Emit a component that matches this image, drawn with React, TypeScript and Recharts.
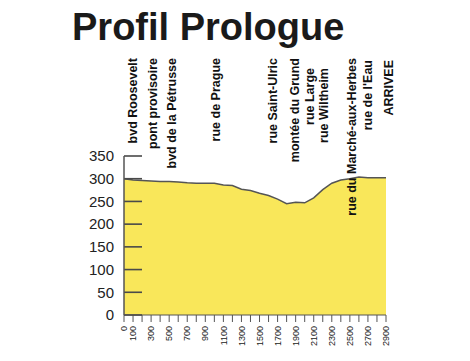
import React from 'react';
import { AreaChart, Area, XAxis, YAxis, ReferenceLine } from 'recharts';

const distances = [0, 100, 200, 300, 400, 500, 600, 700, 800, 900, 1000, 1100, 1200, 1300, 1400, 1500, 1600, 1700, 1800, 1900, 2000, 2100, 2200, 2300, 2400, 2500, 2600, 2700, 2800, 2900];
const elevations = [300, 297, 296, 295, 294, 294, 293, 291, 290, 290, 290, 286, 285, 277, 274, 268, 263, 255, 245, 248, 247, 258, 276, 290, 297, 300, 304, 302, 302, 302];

const xTicks = [0, 100, 200, 300, 400, 500, 600, 700, 800, 900, 1000, 1100, 1200, 1300, 1400, 1500, 1600, 1700, 1800, 1900, 2000, 2100, 2200, 2300, 2400, 2500, 2600, 2700, 2800, 2900];
const xTickLabels = [0, 100, 300, 500, 700, 900, 1100, 1300, 1500, 1700, 1900, 2100, 2300, 2500, 2700, 2900];
const yTicks = [0, 50, 100, 150, 200, 250, 300, 350];
const yMax = 350;

const streetNames = ['bvd Roosevelt', 'pont provisoire', 'bvd de la Pétrusse', 'rue de Prague', 'rue Saint-Ulric', 'montée du Grund', 'rue Large', 'rue Wiltheim', 'rue du Marché-aux-Herbes', "rue de l'Eau", 'ARRIVEE'];
const streetDistances = [100, 320, 530, 1010, 1650, 1890, 2060, 2210, 2520, 2700, 2925];
const streetTop = [58, 58, 58, 58, 58, 58, 68, 68, 58, 60, 60];

const data = distances.map((d, i) => ({ d, e: elevations[i] }));

const FONT = '"Liberation Sans", Arial, Helvetica, sans-serif';

const YTick = (props: any) => {
  const x = Number(props.x);
  const y = Number(props.y);
  const { payload } = props;
  return (
    <g>
      <rect x={x} y={y - 0.8} width={18} height={1.6} fill="#4a4a4a" stroke="none" />
      <text x={x - 10} y={y} dy="0.35em" textAnchor="end" fontSize={15} fill="#222" fontFamily={FONT}>
        {payload.value}
      </text>
    </g>
  );
};

const XTick = (props: any) => {
  const { x, y, payload } = props;
  if (!xTickLabels.includes(payload.value)) return null;
  return (
    <text
      x={x}
      y={y}
      dy="0.35em"
      textAnchor="end"
      fontSize={9}
      fill="#222"
      fontFamily={FONT}
      transform={`rotate(-90, ${x}, ${y})`}
    >
      {payload.value}
    </text>
  );
};

const StreetLabel = ({ viewBox, text, top }: any) => {
  if (!viewBox) return null;
  const x = viewBox.x;
  return (
    <text
      x={x}
      y={top}
      dy="0.35em"
      textAnchor="end"
      fontSize={12.5}
      fontWeight="bold"
      fill="#111"
      fontFamily={FONT}
      transform={`rotate(-90, ${x}, ${top})`}
    >
      {text}
    </text>
  );
};

export default function App() {
  return (
    <div style={{ position: 'absolute', left: 0, top: 0, width: 470, height: 361, background: '#fff' }}>
      <div
        style={{
          position: 'absolute',
          left: 72,
          top: 4,
          fontFamily: FONT,
          fontWeight: 'bold',
          fontSize: 38,
          color: '#1a1a1a',
          lineHeight: '46px',
          whiteSpace: 'nowrap',
        }}
      >
        Profil Prologue
      </div>
      <div style={{ position: 'absolute', left: 0, top: 0 }}>
        <AreaChart width={470} height={361} data={data} margin={{ top: 156, right: 84, bottom: 6, left: 64 }}>
          <Area
            type="linear"
            dataKey="e"
            stroke="#555"
            strokeWidth={1.5}
            fill="#F9E75A"
            fillOpacity={1}
            isAnimationActive={false}
          />
          <XAxis
            dataKey="d"
            type="number"
            domain={[0, 2900]}
            ticks={xTicks}
            interval={0}
            height={40}
            tickSize={7}
            tickMargin={4}
            stroke="#555"
            tickLine={{ stroke: '#555', strokeWidth: 1 }}
            axisLine={{ stroke: '#555', strokeWidth: 1 }}
            tick={<XTick />}
          />
          <YAxis
            type="number"
            domain={[0, yMax]}
            ticks={yTicks}
            interval={0}
            width={60}
            tickSize={0}
            tickMargin={0}
            tickLine={false}
            axisLine={{ stroke: '#555', strokeWidth: 1.5 }}
            tick={<YTick />}
            {...({ zIndex: 3000 } as any)}
          />
          {streetNames.map((name, i) => (
            <ReferenceLine
              key={name}
              x={streetDistances[i]}
              stroke="none"
              ifOverflow="visible"
              label={(p: any) => <StreetLabel viewBox={p.viewBox} text={name} top={streetTop[i]} />}
            />
          ))}
        </AreaChart>
      </div>
    </div>
  );
}
